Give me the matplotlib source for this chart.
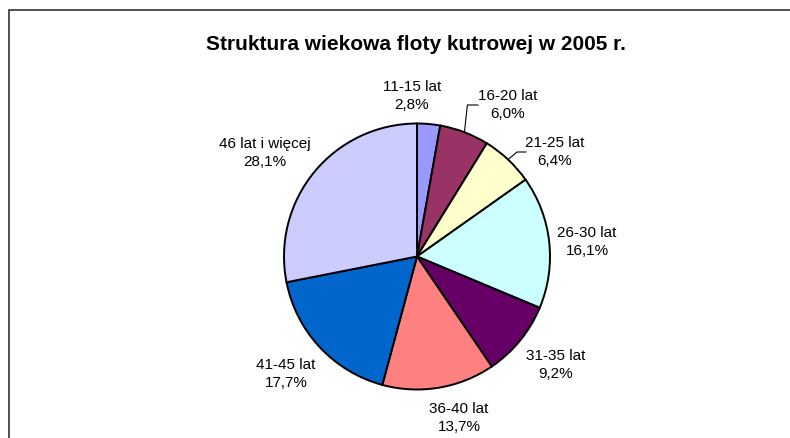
import matplotlib
matplotlib.use("Agg")
import matplotlib.pyplot as plt
from matplotlib.patches import Rectangle
import numpy as np

# data
categories = ["11-15 lat", "16-20 lat", "21-25 lat", "26-30 lat",
              "31-35 lat", "36-40 lat", "41-45 lat", "46 lat i więcej"]
shares = [2.8, 6.0, 6.4, 16.1, 9.2, 13.7, 17.7, 28.1]
colors = ["#9999FF", "#993366", "#FFFFCC", "#CCFFFF",
          "#660066", "#FF8080", "#0066CC", "#CCCCFF"]
title = "Struktura wiekowa floty kutrowej w 2005 r."

W, H = 790, 439
plt.rcParams['font.family'] = ['Liberation Sans', 'DejaVu Sans']

fig = plt.figure(figsize=(W/100, H/100), dpi=100)
ax = fig.add_axes([0, 0, 1, 1])

# outer chart frame (cut off on right and bottom like the original)
fig.patches.append(Rectangle((9/W, -0.1), 1.0, 1 - 11/H + 0.1, transform=fig.transFigure,
                             fill=False, edgecolor='#333333', lw=1.2))

cx, cy, r = 417, H - 257.5, 133
wedges, _ = ax.pie(shares, colors=colors, startangle=90, counterclock=False,
                   center=(cx, cy), radius=r, frame=True,
                   wedgeprops=dict(edgecolor='black', linewidth=1.4))
ax.set_xlim(0, W)
ax.set_ylim(0, H)
ax.axis('off')

# label centres (image pixels) - layout only
label_xy = [(412, 96), (508, 105), (555, 152), (587, 242),
            (556, 365), (459, 418), (286, 374), (265, 153)]
for name, val, (lx, ly) in zip(categories, shares, label_xy):
    txt = name + "\n" + ("%.1f%%" % val).replace('.', ',')
    ax.text(lx, H - ly, txt, ha='center', va='center', fontsize=11,
            linespacing=1.3, color='black')

# leader lines for the two labels moved away from their slices
for i, (ex, ey) in [(1, (478, 106)), (2, (526, 153))]:
    w = wedges[i]
    mid = np.deg2rad((w.theta1 + w.theta2) / 2)
    sx, sy = cx + r*np.cos(mid), cy + r*np.sin(mid)
    if i == 1:
        pts = [(sx, sy), (sx + 3, H - ey), (ex, H - ey)]
    else:
        pts = [(sx, sy), (ex - 9, H - ey), (ex, H - ey)]
    xs, ys = zip(*pts)
    ax.plot(xs, ys, color='black', lw=0.8)

fig.text(416/W, 1 - 45/H, title, ha='center', va='center',
         fontsize=15, fontweight='bold')

fig.savefig("out.png", dpi=100)
